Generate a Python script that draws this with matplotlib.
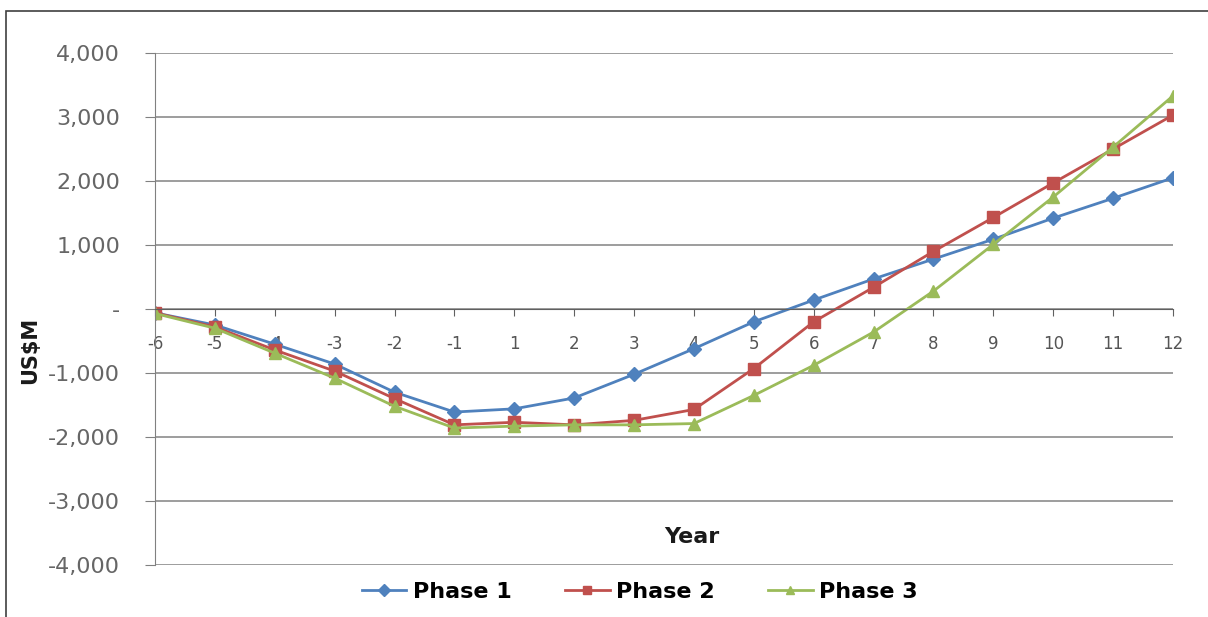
import matplotlib
matplotlib.use("Agg")
import matplotlib.pyplot as plt
from matplotlib.patches import Rectangle
from matplotlib.ticker import FuncFormatter

years = ["-6", "-5", "-4", "-3", "-2", "-1", "1", "2", "3", "4", "5", "6",
         "7", "8", "9", "10", "11", "12"]
phase1 = [-60, -250, -550, -860, -1300, -1610, -1560, -1390, -1020, -620,
          -200, 140, 470, 780, 1090, 1420, 1730, 2050]
phase2 = [-60, -280, -640, -970, -1400, -1810, -1770, -1810, -1740, -1570,
          -930, -200, 340, 900, 1430, 1970, 2500, 3030]
phase3 = [-70, -300, -690, -1080, -1520, -1860, -1830, -1810, -1810, -1790,
          -1350, -880, -360, 280, 1010, 1750, 2530, 3330]

series = [
    ("Phase 1", phase1, "#4F81BD", "D", 7),
    ("Phase 2", phase2, "#C0504D", "s", 8),
    ("Phase 3", phase3, "#9BBB59", "^", 9),
]

fig = plt.figure(figsize=(12.08, 6.17), dpi=100)
ax = fig.add_axes([155 / 1208, 1 - 565 / 617, (1173 - 155) / 1208, (565 - 53) / 617])

# outer chart border
fig.patches.append(Rectangle((6 / 1208, -0.1), 1.2, 1 - 11 / 617 + 0.1,
                             transform=fig.transFigure, fill=False,
                             edgecolor="#404040", linewidth=1.2))

x = list(range(len(years)))
for name, vals, color, marker, ms in series:
    ax.plot(x, vals, color=color, linewidth=2, marker=marker, markersize=ms,
            label=name)

ax.set_xlim(0, len(years) - 1)
ax.set_ylim(-4000, 4000)
ax.set_yticks(range(-4000, 4001, 1000))
ax.yaxis.set_major_formatter(FuncFormatter(
    lambda v, p: "-" if v == 0 else f"{int(v):,}"))
ax.grid(axis="y", color="#8c8c8c", linewidth=1.2)
ax.set_axisbelow(True)

ax.spines["top"].set_visible(False)
ax.spines["right"].set_visible(False)
ax.spines["left"].set_color("#808080")
ax.spines["bottom"].set_position(("data", 0))
ax.spines["bottom"].set_color("#606060")

ax.set_xticks(x)
ax.set_xticklabels(years)
ax.tick_params(axis="x", direction="out", length=5, color="#606060",
               labelsize=12, labelcolor="#555555", pad=14)
ax.tick_params(axis="y", direction="out", length=7, color="#808080",
               labelsize=16, labelcolor="#666666", pad=18)

fig.text(30 / 1208, 1 - 350 / 617, "US$M", rotation=90, ha="center",
         va="center", fontsize=15, fontweight="bold", color="#1a1a1a")
fig.text(692 / 1208, 1 - 537 / 617, "Year", ha="center", va="center",
         fontsize=16, fontweight="bold", color="#1a1a1a")

leg = fig.legend(loc="center", bbox_to_anchor=(640 / 1208, 1 - 592 / 617),
                 ncol=3, frameon=False, handlelength=2.0,
                 columnspacing=2.4, handletextpad=0.3,
                 prop={"weight": "bold", "size": 16})
for h in leg.legend_handles:
    h.set_markersize(6)

fig.savefig("out.png", dpi=100, facecolor="white")
